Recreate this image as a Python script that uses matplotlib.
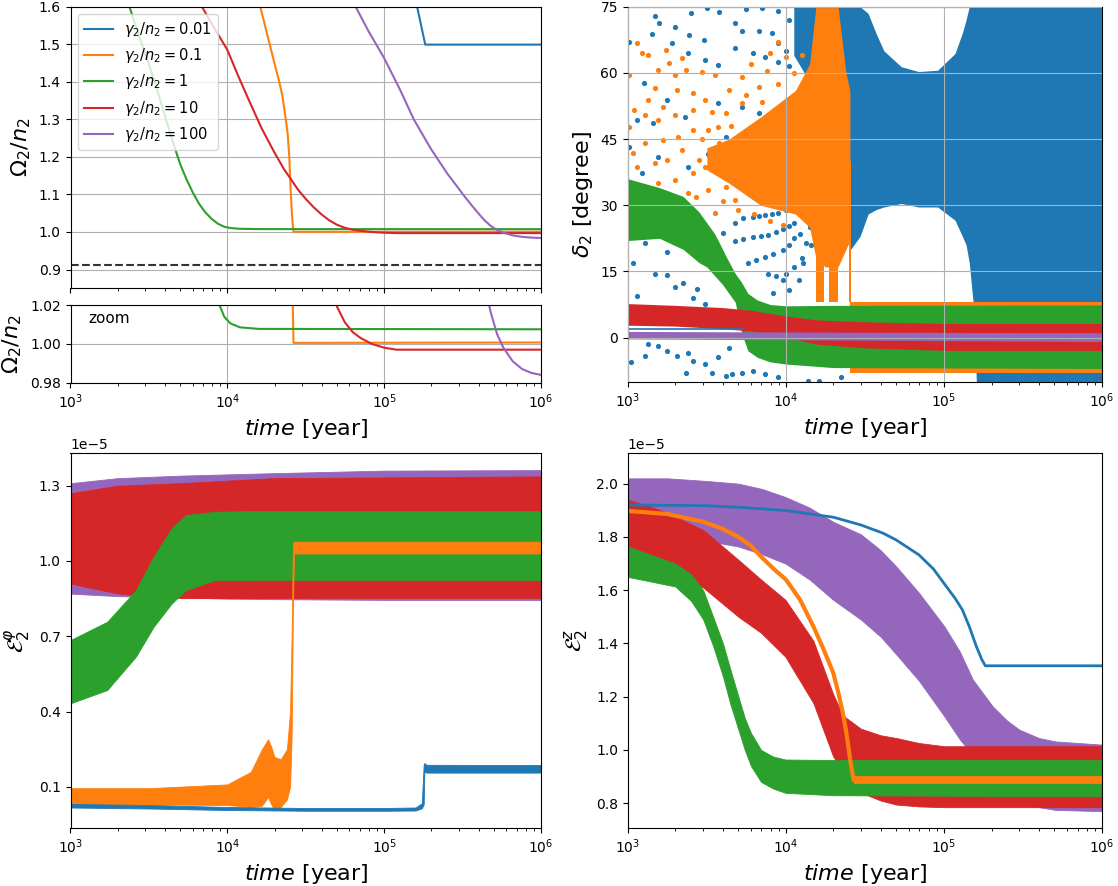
import numpy as np
import matplotlib
matplotlib.use('Agg')
import matplotlib.pyplot as plt

# colours of the five runs, gamma2/n2 = 0.01, 0.1, 1, 10, 100
runs = ['0.01', '0.1', '1', '10', '100']
colors = ['#1f77b4', '#ff7f0e', '#2ca02c', '#d62728', '#9467bd']

# ---------- top-left : Omega2/n2 (time given as log10 of years) ----------
om_blue_lt = [5.2, 5.21, 5.262, 6.0]
om_blue = [1.65, 1.6, 1.499, 1.499]
om_orange_lt = [4.19, 4.21, 4.24, 4.27, 4.30, 4.328, 4.35, 4.373, 4.385, 4.395, 4.403, 4.41, 4.417,
                4.422, 6.0]
om_orange = [1.65, 1.6, 1.55, 1.5, 1.45, 1.405, 1.365, 1.3, 1.26, 1.2, 1.12, 1.06, 1.02, 1.0005, 1.0007]
om_green_lt = [3.36, 3.376, 3.43, 3.48, 3.53, 3.58, 3.62, 3.66, 3.70, 3.74, 3.78, 3.82, 3.86, 3.90,
               3.94, 3.98, 4.02, 4.08, 4.2, 6.0]
om_green = [1.63, 1.6, 1.53, 1.47, 1.41, 1.34, 1.285, 1.23, 1.18, 1.14, 1.105, 1.075, 1.052, 1.035,
            1.022, 1.014, 1.0105, 1.0085, 1.0077, 1.0075]
om_red_lt = [3.80, 3.838, 3.9, 4.0, 4.07, 4.146, 4.22, 4.3, 4.36, 4.408, 4.45, 4.5, 4.55, 4.6, 4.65,
             4.7, 4.75, 4.8, 4.85, 4.92, 5.0, 5.08, 6.0]
om_red = [1.63, 1.6, 1.555, 1.485, 1.415, 1.343, 1.275, 1.212, 1.168, 1.139, 1.113, 1.088, 1.066,
          1.047, 1.031, 1.019, 1.011, 1.006, 1.003, 1.0, 0.998, 0.997, 0.997]
om_purple_lt = [4.78, 4.818, 4.9, 5.0, 5.1, 5.19, 5.3, 5.40, 5.46, 5.51, 5.56, 5.60, 5.64, 5.68, 5.72,
                5.76, 5.82, 5.88, 5.94, 6.0]
om_purple = [1.64, 1.6, 1.535, 1.463, 1.38, 1.299, 1.22, 1.157, 1.124, 1.096, 1.07, 1.05, 1.031,
             1.016, 1.005, 0.998, 0.991, 0.987, 0.985, 0.984]
om_lines_lt = [om_blue_lt, om_orange_lt, om_green_lt, om_red_lt, om_purple_lt]
om_lines = [om_blue, om_orange, om_green, om_red, om_purple]
om_limit = 0.911

# ---------- top-right : delta2 [degree] ----------
d_purple_lt = [3.0, 4.5, 6.0]
d_purple_lo = [-0.3, -0.6, -0.9]
d_purple_hi = [1.4, 1.2, 1.1]
d_red_lt = [3.0, 3.3, 3.6, 3.78, 4.0, 4.2, 4.48, 5.0, 6.0]
d_red_lo = [2.8, 2.6, 2.0, 1.5, 0.0, -1.5, -2.3, -2.9, -2.9]
d_red_hi = [7.7, 7.3, 6.8, 6.2, 4.9, 4.0, 3.6, 3.2, 3.2]
d_green_lt = [3.0, 3.2, 3.35, 3.45, 3.5, 3.55, 3.6, 3.62, 3.68, 3.72, 3.76, 3.82, 3.9, 4.0, 4.3, 6.0]
d_green_lo = [22, 22.5, 20, 17, 16, 14, 12, 11, 8, 1, -3, -4.5, -5.5, -6, -6.8, -7]
d_green_hi = [36, 34, 32, 28.5, 26, 23.5, 20, 18.5, 14.5, 12.5, 10, 8.5, 7.5, 7.2, 7.3, 7.4]
d_orange_fan_lt = [3.5, 3.64, 3.84, 3.95, 4.06, 4.15, 4.19, 4.25, 4.33, 4.38, 4.405]
d_orange_fan_lo = [38, 35, 30, 29, 28, 25, 18, 16, 16, 20, 22]
d_orange_fan_hi = [43, 45, 50, 53, 56, 62, 75, 75, 75, 60, 56]
d_orange_cols = [(4.19, 4.24), (4.27, 4.33), (4.398, 4.41)]
d_orange_cols_lo = [8, 8, 8]
d_orange_cols_hi = [18, 18, 40]
d_orange_band_lt = [4.405, 6.0]
d_orange_band_lo = [-8.0, -8.0]
d_orange_band_hi = [8.1, 8.1]
d_blue_lt = [4.05, 4.15, 4.25, 4.35, 4.41, 4.47, 4.52, 4.57, 4.62, 4.73, 4.84, 4.96, 5.07,
             5.116, 5.14, 5.16, 5.19, 5.205, 6.0]
d_blue_lo = [64, 58, 50, 40, 20, 23, 28, 29, 29.6, 30.4, 29.6, 29.6, 26.6, 23, 21, 17, 6, -10, -10]
d_blue_hi = [75, 75, 75, 75, 75, 75, 73.5, 69, 65, 61.4, 60.3, 60.6, 64.4, 69, 72, 75, 75, 75, 75]
d_blue_line_lt = [3.0, 3.72]
d_blue_line = [2.0, 2.0]
d_blue_dots = [
    (3.17, 73.0), (3.20, 71.3), (3.30, 70.5), (3.40, 73.6), (3.15, 68.8), (3.01, 67.1), (3.28, 66.7),
    (3.39, 68.6), (3.48, 67.5), (3.58, 73.9), (3.68, 71.3), (3.72, 69.4), (3.83, 69.4), (3.91, 69.0),
    (3.95, 66.7), (4.0, 65.0), (3.68, 65.6), (3.79, 64.5), (3.87, 63.7), (3.95, 62.5), (4.02, 61.5),
    (3.49, 63.0), (3.57, 61.8), (3.38, 64.5), (3.10, 57.7), (3.25, 53.9), (3.06, 49.3), (3.16, 48.6),
    (3.36, 50.0), (3.57, 53.2), (3.72, 52.3), (3.83, 50.9), (3.92, 49.5), (4.0, 48.0), (3.01, 43.2),
    (3.19, 41.0), (3.09, 37.3), (3.38, 38.6), (3.51, 41.7), (3.62, 45.5), (3.76, 46.3), (3.89, 45.5),
    (3.98, 44.0), (3.5, 74.8), (3.75, 74.5), (3.85, 74.8), (3.95, 74.0), (4.02, 72.0), (4.08, 70.0),
    (3.11, 21.4), (3.03, 17.0), (3.17, 14.5), (3.25, 14.1), (3.06, 9.5), (3.30, 11.4), (3.44, 11.1),
    (3.35, 12.3), (3.49, 7.7), (3.41, 8.9), (3.25, 19.3), (3.60, 23.6), (3.68, 25.9), (3.79, 27.3),
    (3.87, 27.7), (3.95, 28.2), (4.02, 29.5), (3.68, 22.0), (3.79, 22.7), (3.89, 23.2), (3.98, 24.5),
    (4.05, 26.0), (3.76, 17.0), (3.87, 18.2), (3.98, 19.8), (4.05, 22.5), (3.89, 14.5), (3.98, 13.0),
    (3.92, 10.0), (4.02, 10.7), (4.08, 13.0), (4.11, 16.8), (4.13, 21.4), (4.05, 16.0), (4.15, 25.0),
    (3.73, 27.0), (3.83, 27.5), (3.91, 28.0), (4.0, 29.0), (4.08, 31.0), (4.14, 33.0), (3.73, 22.3),
    (3.84, 23.0), (3.94, 24.0), (4.02, 25.2), (4.1, 27.5), (3.81, 17.6), (3.92, 19.0), (4.02, 21.0),
    (4.09, 23.5), (3.94, 14.0), (4.0, 14.5), (4.1, 18.0), (4.16, 21.0), (4.18, 27.0), (4.2, 30.0),
    (3.13, -1.4), (3.19, -1.8), (3.11, -4.1), (3.25, -3.0), (3.31, -4.1), (3.38, -3.6), (3.37, -8.0),
    (3.41, -5.2), (3.49, -5.9), (3.53, -8.0), (3.62, -8.6), (3.66, -8.2), (3.72, -8.0), (3.79, -7.5),
    (3.87, -8.2), (3.57, -4.5), (3.64, -2.3), (4.14, -9.8), (4.21, -9.8), (4.27, -5.9), (3.02, -5.5),
    (3.95, -9.0), (4.35, -9.0)]
d_orange_dots = [
    (3.06, 66.8), (3.09, 64.5), (3.13, 64.0), (3.24, 65.2), (3.26, 62.2), (3.19, 60.7), (3.01, 59.5),
    (3.34, 63.4), (3.30, 59.5), (3.37, 60.7), (3.47, 60.2), (3.55, 59.5), (3.17, 56.6), (3.13, 53.9),
    (3.04, 51.6), (3.11, 50.5), (3.22, 52.3), (3.31, 56.1), (3.41, 55.4), (3.49, 53.9), (3.01, 47.7),
    (3.19, 49.3), (3.30, 50.5), (3.41, 51.6), (3.53, 51.1), (3.64, 56.1), (3.72, 59.1), (3.83, 56.8),
    (3.62, 50.9), (3.72, 53.2), (3.11, 44.1), (3.03, 41.8), (3.22, 44.8), (3.32, 45.5), (3.41, 47.0),
    (3.51, 47.0), (3.57, 47.7), (3.06, 38.6), (3.17, 39.5), (3.25, 40.2), (3.34, 42.5), (3.45, 40.2),
    (3.53, 41.8), (3.62, 42.5), (3.04, 34.1), (3.19, 35.0), (3.30, 35.7), (3.41, 37.3), (3.49, 38.6),
    (3.57, 37.3), (3.66, 38.6), (3.38, 32.7), (3.51, 33.4), (3.62, 34.1), (3.43, 31.8), (3.55, 28.2),
    (3.68, 31.1), (3.03, 25.0), (3.14, 24.8), (3.78, 62.0), (3.9, 64.5), (3.95, 67.0), (3.7, 29.0),
    (3.8, 28.0), (3.9, 26.5), (3.98, 25.5), (3.75, 55.0), (3.85, 53.5), (3.95, 57.5), (4.05, 60.0),
    (4.1, 64.0), (3.58, 44.0), (3.6, 31.0), (3.47, 45.0), (3.65, 48.0), (3.88, 60.5), (4.0, 63.5)]

# ---------- bottom-left : E2^phi  (units of 1e-5) ----------
bl_lt = {
    '100': [3.0, 3.3, 3.7, 4.0, 4.3, 5.0, 6.0],
    '10': [3.0, 3.15, 3.3, 3.5, 3.7, 4.0, 4.3, 6.0],
    '1': [3.0, 3.234, 3.417, 3.53, 3.644, 3.735, 3.92, 4.2, 6.0],
    '0.1': [3.0, 3.5, 4.0, 4.15, 4.22, 4.26, 4.28, 4.30, 4.34, 4.38, 4.40, 4.41, 4.418, 4.425, 6.0],
    '0.01': [3.0, 3.5, 4.0, 4.5, 5.0, 5.2, 5.24, 5.252, 5.256, 5.27, 6.0]}
bl_lo = {
    '100': [0.87, 0.86, 0.855, 0.85, 0.848, 0.845, 0.845],
    '10': [0.91, 0.89, 0.871, 0.858, 0.852, 0.852, 0.853, 0.853],
    '1': [0.433, 0.486, 0.619, 0.738, 0.83, 0.884, 0.924, 0.925, 0.925],
    '0.1': [0.03, 0.03, 0.028, 0.02, 0.025, 0.06, 0.03, 0.01, 0.02, 0.05, 0.10, 0.3, 0.8, 1.03, 1.03],
    '0.01': [0.018, 0.014, 0.008, 0.005, 0.005, 0.006, 0.015, 0.03, 0.16, 0.157, 0.157]}
bl_hi = {
    '100': [1.31, 1.33, 1.34, 1.345, 1.35, 1.36, 1.362],
    '10': [1.27, 1.285, 1.30, 1.305, 1.31, 1.32, 1.33, 1.337],
    '1': [0.685, 0.758, 0.884, 1.017, 1.13, 1.183, 1.196, 1.199, 1.199],
    '0.1': [0.095, 0.095, 0.11, 0.16, 0.25, 0.29, 0.26, 0.22, 0.21, 0.25, 0.40, 0.7, 1.07, 1.077, 1.077],
    '0.01': [0.032, 0.028, 0.02, 0.016, 0.016, 0.018, 0.035, 0.19, 0.195, 0.188, 0.187]}

# ---------- bottom-right : E2^z (units of 1e-5) ----------
br_lt = {
    '100': [3.0, 3.252, 3.5, 3.70, 3.85, 3.997, 4.15, 4.299, 4.474, 4.6, 4.697, 4.842, 5.003, 5.1,
            5.183, 5.308, 5.4, 5.478, 5.6, 5.705, 6.0],
    '10': [3.0, 3.161, 3.252, 3.477, 3.70, 3.843, 3.997, 4.174, 4.299, 4.36, 4.474, 4.6, 4.697, 4.842,
           5.003, 6.0],
    '1': [3.0, 3.3, 3.4, 3.477, 3.54, 3.602, 3.65, 3.70, 3.74, 3.779, 3.843, 3.92, 3.997, 4.3, 6.0],
    '0.1': [4.429, 6.0]}
br_lo = {
    '100': [1.86, 1.80, 1.785, 1.764, 1.735, 1.70, 1.64, 1.564, 1.49, 1.425, 1.36, 1.26, 1.126, 1.04,
            0.98, 0.88, 0.83, 0.80, 0.785, 0.775, 0.77],
    '10': [1.72, 1.69, 1.676, 1.61, 1.50, 1.44, 1.35, 1.176, 0.976, 0.92, 0.84, 0.81, 0.795, 0.788,
           0.785, 0.785],
    '1': [1.65, 1.614, 1.56, 1.49, 1.39, 1.276, 1.17, 1.076, 1.0, 0.94, 0.88, 0.855, 0.839, 0.83, 0.826],
    '0.1': [0.877, 0.877]}
br_hi = {
    '100': [2.02, 2.02, 2.01, 2.0, 1.98, 1.95, 1.91, 1.857, 1.81, 1.75, 1.69, 1.59, 1.464, 1.37,
            1.264, 1.164, 1.11, 1.076, 1.045, 1.032, 1.02],
    '10': [1.94, 1.91, 1.89, 1.826, 1.714, 1.64, 1.564, 1.41, 1.21, 1.13, 1.08, 1.055, 1.045, 1.026,
           1.014, 1.014],
    '1': [1.764, 1.70, 1.66, 1.60, 1.50, 1.40, 1.30, 1.20, 1.12, 1.064, 1.0, 0.975, 0.964, 0.962, 0.962],
    '0.1': [0.903, 0.903]}
br_orange_lt = [3.0, 3.25, 3.477, 3.60, 3.70, 3.78, 3.843, 3.93, 4.0, 4.09, 4.174, 4.24, 4.3, 4.33,
                4.36, 4.38, 4.395, 4.41, 4.429]
br_orange = [1.8975, 1.886, 1.857, 1.83, 1.80, 1.766, 1.726, 1.676, 1.64, 1.564, 1.464, 1.376, 1.289,
             1.22, 1.14, 1.075, 1.014, 0.95, 0.889]
br_blue_lt = [3.0, 3.48, 3.71, 4.0, 4.3, 4.474, 4.615, 4.697, 4.842, 4.933, 5.0, 5.07, 5.117, 5.16,
              5.205, 5.24, 5.262, 6.0]
br_blue = [1.92, 1.9175, 1.911, 1.899, 1.874, 1.845, 1.814, 1.789, 1.7325, 1.68, 1.626, 1.57, 1.526,
           1.464, 1.389, 1.339, 1.316, 1.316]

scale = 1e-5
W, H = 1118, 886


def box(left, top, right, bottom):
    return [left / W, 1 - bottom / H, (right - left) / W, (bottom - top) / H]


def yr(lt):
    return 10 ** np.asarray(lt, dtype=float)


def tlabel(ax):
    ax.set_xlabel(r'$time$ [year]', fontsize=16)


fig = plt.figure(figsize=(W / 100, H / 100), dpi=100)
plt.rcParams['font.size'] = 10

# ----- top-left main -----
ax1 = fig.add_axes(box(70.5, 6.7, 541, 288.3))
for i in range(5):
    ax1.plot(yr(om_lines_lt[i]), om_lines[i], color=colors[i], lw=1.5,
             label=r'$\gamma_2/n_2 = %s$' % runs[i])
ax1.axhline(om_limit, color='0.2', ls='--', lw=1.5)
ax1.set_xscale('log')
ax1.set_xlim(1e3, 1e6)
ax1.set_ylim(0.85, 1.6)
ax1.set_yticks([0.9, 1.0, 1.1, 1.2, 1.3, 1.4, 1.5, 1.6])
ax1.tick_params(labelbottom=False, labelsize=10)
ax1.grid(True)
ax1.set_ylabel(r'$\Omega_2/n_2$', fontsize=16)
ax1.legend(loc='upper left', fontsize=10.5)

# ----- top-left zoom -----
ax2 = fig.add_axes(box(70.5, 305, 541, 382.7))
for i in range(1, 5):
    ax2.plot(yr(om_lines_lt[i]), om_lines[i], color=colors[i], lw=1.5)
ax2.set_xscale('log')
ax2.set_xlim(1e3, 1e6)
ax2.set_ylim(0.98, 1.02)
ax2.set_yticks([0.98, 1.00, 1.02])
ax2.tick_params(labelsize=10)
ax2.grid(True)
ax2.text(0.037, 0.82, 'zoom', transform=ax2.transAxes, fontsize=11, va='center')
ax2.set_ylabel(r'$\Omega_2/n_2$', fontsize=16)
tlabel(ax2)

# ----- top-right delta2 -----
ax3 = fig.add_axes(box(627.8, 6.7, 1102, 381.7))
bd = np.array(d_blue_dots)
od = np.array(d_orange_dots)
ax3.scatter(yr(bd[:, 0]), bd[:, 1], s=14, color=colors[0], lw=0)
ax3.fill_between(yr(d_blue_lt), d_blue_lo, d_blue_hi, color=colors[0], lw=0)
ax3.plot(yr(d_blue_line_lt), d_blue_line, color=colors[0], lw=1.2)
ax3.scatter(yr(od[:, 0]), od[:, 1], s=14, color=colors[1], lw=0)
ax3.fill_between(yr(d_orange_fan_lt), d_orange_fan_lo, d_orange_fan_hi, color=colors[1], lw=0)
for (a, b), lo, hi in zip(d_orange_cols, d_orange_cols_lo, d_orange_cols_hi):
    ax3.fill_between(yr([a, b]), [lo, lo], [hi, hi], color=colors[1], lw=0)
ax3.fill_between(yr(d_orange_band_lt), d_orange_band_lo, d_orange_band_hi, color=colors[1], lw=0)
ax3.fill_between(yr(d_green_lt), d_green_lo, d_green_hi, color=colors[2], lw=0)
ax3.fill_between(yr(d_red_lt), d_red_lo, d_red_hi, color=colors[3], lw=0)
ax3.fill_between(yr(d_purple_lt), d_purple_lo, d_purple_hi, color=colors[4], lw=0)
ax3.set_xscale('log')
ax3.set_xlim(1e3, 1e6)
ax3.set_ylim(-10, 75)
ax3.set_yticks([0, 15, 30, 45, 60, 75])
ax3.tick_params(labelsize=10)
ax3.grid(True)
ax3.set_axisbelow(False)
ax3.set_ylabel(r'$\delta_2$ [degree]', fontsize=16)
tlabel(ax3)

# ----- bottom-left E^phi -----
ax4 = fig.add_axes(box(70.5, 453.3, 541, 827.7))
for k in ['100', '10', '1', '0.1', '0.01']:
    c = colors[runs.index(k)]
    ax4.fill_between(yr(bl_lt[k]), np.array(bl_lo[k]) * scale, np.array(bl_hi[k]) * scale,
                     color=c, lw=0.6, edgecolor=c)
ax4.set_xscale('log')
ax4.set_xlim(1e3, 1e6)
ax4.set_ylim(-0.0625 * scale, 1.429 * scale)
ax4.set_yticks(np.array([0.1, 0.4, 0.7, 1.0, 1.3]) * scale)
ax4.tick_params(labelsize=10)
ax4.yaxis.get_offset_text().set_fontsize(10)
ax4.set_ylabel(r'$\mathcal{E}_2^{\varphi}$', fontsize=16)
tlabel(ax4)

# ----- bottom-right E^z -----
ax5 = fig.add_axes(box(627.8, 453.3, 1102, 827.7))
for k in ['100', '10', '1', '0.1']:
    c = colors[runs.index(k)]
    ax5.fill_between(yr(br_lt[k]), np.array(br_lo[k]) * scale, np.array(br_hi[k]) * scale,
                     color=c, lw=0.6, edgecolor=c)
ax5.plot(yr(br_orange_lt), np.array(br_orange) * scale, color=colors[1], lw=3)
ax5.plot(yr(br_blue_lt), np.array(br_blue) * scale, color=colors[0], lw=2)
ax5.set_xscale('log')
ax5.set_xlim(1e3, 1e6)
ax5.set_ylim(0.708 * scale, 2.114 * scale)
ax5.set_yticks(np.array([0.8, 1.0, 1.2, 1.4, 1.6, 1.8, 2.0]) * scale)
ax5.tick_params(labelsize=10)
ax5.yaxis.get_offset_text().set_fontsize(10)
ax5.set_ylabel(r'$\mathcal{E}_2^{z}$', fontsize=16)
tlabel(ax5)

fig.savefig('out.png', dpi=100)
